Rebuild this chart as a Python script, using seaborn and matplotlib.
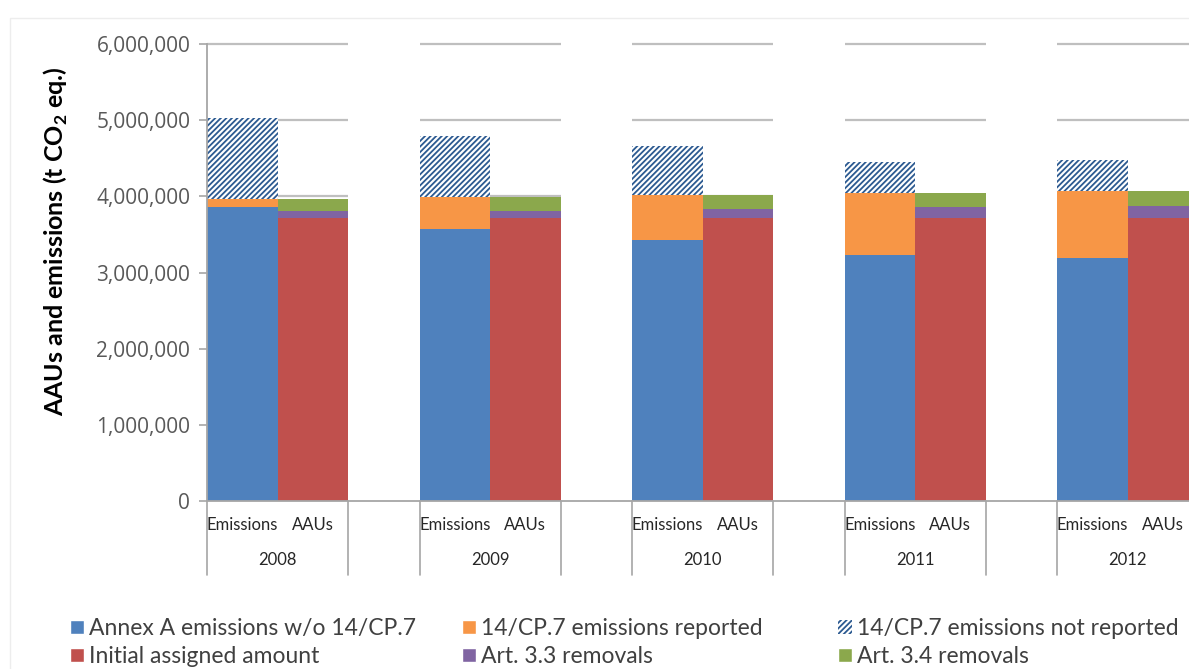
import numpy as np
import pandas as pd
import matplotlib.pyplot as plt
import seaborn as sns
from matplotlib.patches import Patch, Rectangle
from matplotlib.ticker import FuncFormatter

# values in t CO2 eq.
years = ['2008', '2009', '2010', '2011', '2012']
annex_a = [3856000, 3567000, 3427000, 3230000, 3190000]
cp7_reported = [104000, 420000, 590000, 810000, 884000]
cp7_not_reported = [1064000, 803000, 643000, 407000, 399000]
initial_aa = [3710000, 3710000, 3710000, 3710000, 3710000]
art33 = [100000, 100000, 130000, 146000, 160000]
art34 = [150000, 185000, 177000, 184000, 204000]

c_blue = '#4F81BD'
c_orange = '#F79646'
c_hatch = '#2C5A91'
c_red = '#C0504D'
c_purple = '#8064A2'
c_green = '#8BA84C'
c_axis = '#A6A6A6'

sns.set_style('white')
plt.rcParams['font.family'] = ['Lato', 'DejaVu Sans']
plt.rcParams['hatch.linewidth'] = 1.3

BAR_W = 0.332
grp = np.arange(len(years))

em = pd.DataFrame({'x': grp - BAR_W / 2, 'a': annex_a, 'b': cp7_reported, 'c': cp7_not_reported})
em['ab'] = em['a'] + em['b']
em['abc'] = em['ab'] + em['c']

aa = pd.DataFrame({'x': grp + BAR_W / 2, 'r': initial_aa, 'p': art33, 'g': art34})
aa['rp'] = aa['r'] + aa['p']
aa['rpg'] = aa['rp'] + aa['g']

fig = plt.figure(figsize=(11.89, 6.69), dpi=100)
ax = fig.add_axes([207 / 1189, 1 - 501 / 669, (1189 - 207) / 1189, 457 / 669])

common = dict(native_scale=True, width=BAR_W, saturation=1, errorbar=None, ax=ax, zorder=2)

# stacked bars drawn from the cumulative top down
sns.barplot(data=em, x='x', y='abc', color='white', edgecolor=c_hatch, hatch='//////', linewidth=0, **common)
sns.barplot(data=em, x='x', y='ab', color=c_orange, linewidth=0, **common)
sns.barplot(data=em, x='x', y='a', color=c_blue, linewidth=0, **common)
sns.barplot(data=aa, x='x', y='rpg', color=c_green, linewidth=0, **common)
sns.barplot(data=aa, x='x', y='rp', color=c_purple, linewidth=0, **common)
sns.barplot(data=aa, x='x', y='r', color=c_red, linewidth=0, **common)

yticks = np.arange(0, 6000001, 1000000)
ax.set_ylim(0, 6000000)
ax.set_xlim(-BAR_W, -BAR_W + (1189 - 207) / 212.5)
ax.set_yticks(yticks)
ax.yaxis.set_major_formatter(FuncFormatter(lambda v, p: f'{int(v):,}'))
ax.set_xticks([])
ax.set_xlabel('')
ax.set_ylabel('')

# gridlines only across each year group
for g in grp:
    ax.hlines(yticks[1:], g - BAR_W, g + BAR_W, color='#BFBFBF', lw=1.6, zorder=0.5, clip_on=False)

for side in ['top', 'right']:
    ax.spines[side].set_visible(False)
for side in ['left', 'bottom']:
    ax.spines[side].set_color(c_axis)
    ax.spines[side].set_linewidth(1.3)
ax.tick_params(axis='y', left=True, length=6, width=1.2, color=c_axis, pad=6)
for lab in ax.get_yticklabels():
    lab.set_family(['Open Sans', 'DejaVu Sans'])
    lab.set_fontsize(15)
    lab.set_color('#595959')

# two-level category axis
xt = ax.get_xaxis_transform()
for i, g in enumerate(grp):
    ax.text(em['x'][i], -0.052, 'Emissions', transform=xt, ha='center', va='center', fontsize=12, color='#262626')
    ax.text(aa['x'][i], -0.052, 'AAUs', transform=xt, ha='center', va='center', fontsize=12, color='#262626')
    ax.text(g, -0.129, years[i], transform=xt, ha='center', va='center', fontsize=12, color='#262626')
    for edge in (g - BAR_W, g + BAR_W):
        ax.plot([edge, edge], [0, -0.162], transform=xt, color=c_axis, lw=1.2, clip_on=False)

fig.text(56 / 1189, 1 - 241 / 669, 'AAUs and emissions (t CO$_\\mathregular{2}$ eq.)', rotation=90,
         ha='center', va='center', fontsize=18, fontweight='bold', color='#000000')

# faint chart-area border
fig.patches.append(Rectangle((10 / 1189, -0.05), 1.1, 1 - 18 / 669 + 0.05, transform=fig.transFigure,
                             fill=False, edgecolor='#EDEDED', lw=1))

legend_cols = [
    [Patch(facecolor=c_blue, label='Annex A emissions w/o 14/CP.7'),
     Patch(facecolor=c_red, label='Initial assigned amount')],
    [Patch(facecolor=c_orange, label='14/CP.7 emissions reported'),
     Patch(facecolor=c_purple, label='Art. 3.3 removals')],
    [Patch(facecolor='white', edgecolor=c_hatch, hatch='//////', linewidth=0, label='14/CP.7 emissions not reported'),
     Patch(facecolor=c_green, label='Art. 3.4 removals')],
]
for x0, handles in zip([70, 462, 838], legend_cols):
    leg = fig.legend(handles=handles, loc='center left', bbox_to_anchor=(x0 / 1189, 1 - 642.5 / 669),
                     frameon=False, fontsize=16.5, borderpad=0, borderaxespad=0, handlelength=0.6,
                     handleheight=0.6, handletextpad=0.25, labelspacing=0.3, labelcolor='#404040')

fig.savefig('out.png', dpi=100)
